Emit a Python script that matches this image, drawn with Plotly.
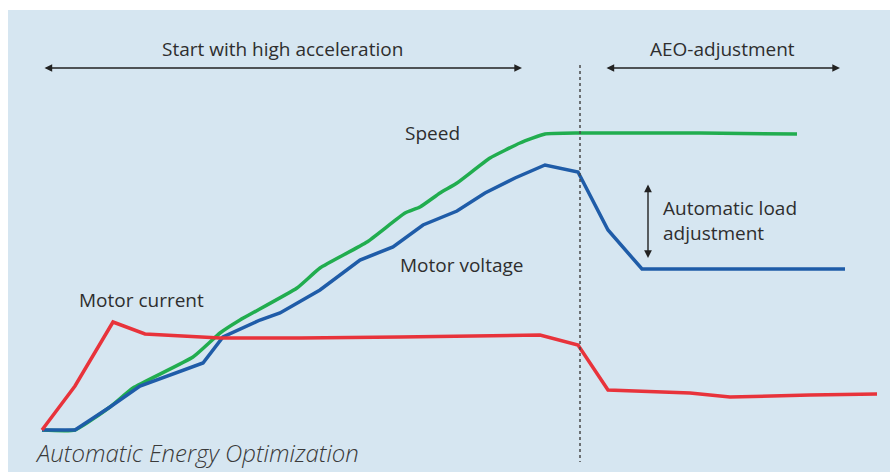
import plotly.graph_objects as go

# time axis (arbitrary units) and levels
t_current = [0, 33, 71, 103, 178, 258, 358, 458, 498, 536, 566, 648, 688, 768, 835]
motor_current = [0, 44, 108, 96, 92, 92, 93, 95, 95, 85, 40, 37, 33, 35, 36]

t_voltage = [0, 33, 68, 98, 161, 181, 218, 238, 278, 318, 351, 381, 415, 443, 473, 503, 536, 566, 600, 803]
motor_voltage = [0, 0, 23, 44, 67, 93, 110, 117, 140, 170, 183, 205, 219, 237, 252, 265, 258, 200, 161, 161]

t_speed = [0, 33, 68, 91, 151, 178, 198, 255, 278, 325, 363, 378, 398, 415, 448, 478, 503, 538, 658, 755]
speed = [0, 0, 23, 42, 73, 97, 110, 142, 162, 188, 217, 223, 237, 247, 272, 287, 296, 297, 297, 296]

RED = "#e8333b"
BLUE = "#1f5ca8"
GREEN = "#21ad4f"
BG = "#d6e6f1"
TXT = "#2e2e2e"
FONT = "Open Sans"

fig = go.Figure()
fig.add_trace(go.Scatter(x=t_speed, y=speed, mode="lines", name="Speed",
                         line=dict(color=GREEN, width=3.5, shape="spline", smoothing=0.4)))
fig.add_trace(go.Scatter(x=t_voltage, y=motor_voltage, mode="lines", name="Motor voltage",
                         line=dict(color=BLUE, width=3.5)))
fig.add_trace(go.Scatter(x=t_current, y=motor_current, mode="lines", name="Motor current",
                         line=dict(color=RED, width=3.5)))

shapes = [
    dict(type="rect", xref="x", yref="y", x0=-34, x1=850, y0=-45, y1=420,
         fillcolor=BG, line=dict(width=0), layer="below"),
    dict(type="line", xref="x", yref="y", x0=538, x1=538, y0=365, y1=-32,
         line=dict(color="#4a4a4a", width=1.5, dash="dot")),
]

def arrow(x0, y0, x1, y1):
    return dict(x=x1, y=y1, ax=x0, ay=y0, xref="x", yref="y", axref="x", ayref="y",
                text="", showarrow=True, arrowhead=2, arrowside="end+start",
                arrowsize=1.1, arrowwidth=1.4, arrowcolor="#222222", standoff=0, startstandoff=0)

def label(x, y, text, xanchor="left", size=19):
    return dict(x=x, y=y, xref="x", yref="y", text=text, showarrow=False,
                xanchor=xanchor, yanchor="middle", align="left",
                font=dict(family=FONT, size=size, color=TXT))

annotations = [
    arrow(1, 362, 480, 362),
    arrow(563, 362, 798, 362),
    arrow(606, 247, 606, 172),
    label(240, 381, "Start with high acceleration", xanchor="center"),
    label(680, 381, "AEO-adjustment", xanchor="center"),
    label(619, 210, "Automatic load<br>adjustment"),
    label(361, 297, "Speed"),
    label(356, 165, "Motor voltage"),
    label(35, 130, "Motor current"),
    dict(x=-8, y=-40, xref="x", yref="y", text="<i>Automatic Energy Optimization</i>",
         showarrow=False, xanchor="left", yanchor="bottom", borderpad=0,
         font=dict(family=FONT, size=24, color="#3a3a3a", weight=300)),
]

fig.update_layout(
    width=890, height=472,
    margin=dict(l=0, r=0, t=0, b=0),
    paper_bgcolor="white", plot_bgcolor="white",
    showlegend=False,
    shapes=shapes, annotations=annotations,
    xaxis=dict(range=[-42, 848], visible=False, fixedrange=True),
    yaxis=dict(range=[-42, 430], visible=False, fixedrange=True),
)

fig.write_html("out.html", config={"displayModeBar": False},
               post_script="document.body.style.margin='0';document.body.style.overflow='hidden';")
